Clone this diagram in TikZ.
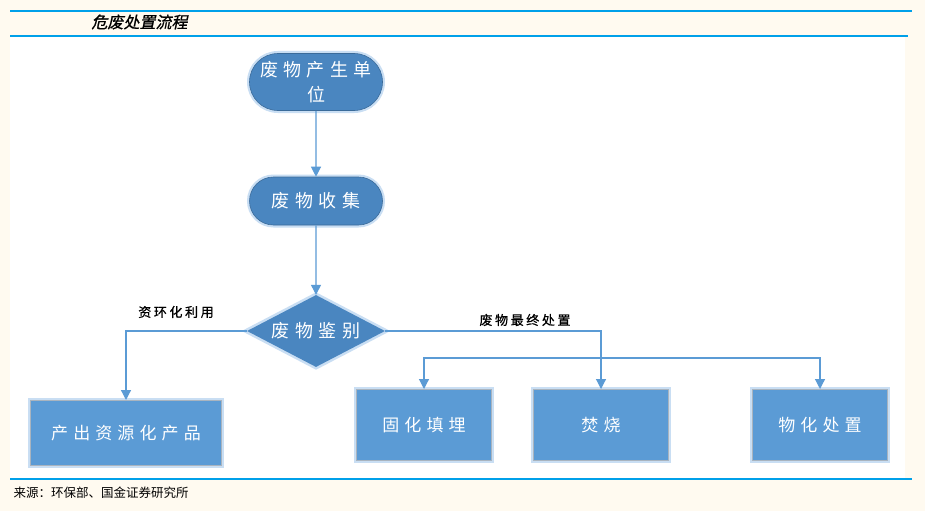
\documentclass[tikz,border=0pt]{standalone}
\usepackage{fontspec}
\setmainfont{Noto Sans CJK SC}
\newfontfamily\cjkwide[LetterSpace=30]{Noto Sans CJK SC}
\newfontfamily\cjklabel[LetterSpace=20,FakeBold=0.8]{Noto Sans CJK SC}
\newfontfamily\cjkslant[FakeSlant=0.2,FakeBold=1]{Noto Sans CJK SC}
\usetikzlibrary{shapes.geometric,shapes.misc,arrows.meta,positioning}
\definecolor{pageback}{HTML}{FFFAF0}
\definecolor{rulecol}{HTML}{00A0E9}
\definecolor{darkblue}{HTML}{4A86C0}
\definecolor{boxblue}{HTML}{5B9BD5}
\definecolor{glowblue}{HTML}{C9DEF3}
\definecolor{linkblue}{HTML}{5B9BD5}
\definecolor{boxrim}{HTML}{A9B4BF}
\tikzset{
  terminal/.style={rounded rectangle, fill=darkblue, draw=darkblue!80!black, line width=0.6pt,
    preaction={draw=glowblue, line width=5pt}, text=white, align=center,
    minimum width=137pt, minimum height=48pt, inner sep=2pt,
    font=\cjkwide\fontsize{18}{25}\selectfont},
  judge/.style={diamond, fill=darkblue, preaction={draw=glowblue, line width=5pt}, text=white,
    aspect=1.9, minimum width=138pt, minimum height=72pt, inner sep=0pt,
    font=\cjkwide\fontsize{18}{22}\selectfont},
  outbox/.style={rectangle, fill=boxblue, draw=boxrim, line width=1pt,
    preaction={draw=glowblue, line width=5pt}, text=white,
    minimum width=135pt, minimum height=71pt,
    font=\cjkwide\fontsize{17}{20}\selectfont},
  note/.style={font=\cjklabel\fontsize{13}{15}\selectfont, text=black},
  link/.style={draw=linkblue, line width=1.2pt, -{Triangle[width=10pt,length=10pt]}}
}
\begin{document}
\begin{tikzpicture}[x=1pt,y=-1pt]
% 背景与标题栏
\useasboundingbox[fill=pageback] (0,0) rectangle (925,511);
\fill[white] (10,37) rectangle (905,478);
\draw[rulecol, line width=2pt] (10,11) -- (912,11);
\draw[rulecol, line width=1.5pt] (10,36) -- (908,36);
\draw[rulecol, line width=2.5pt] (10,479) -- (912,479);
\node[anchor=west, font=\cjkslant\fontsize{16}{18}\selectfont] (title) at (88,22) {危废处置流程};
\node[anchor=west, font=\fontsize{12.5}{14}\selectfont] (credit) at (10,493) {来源：环保部、国金证券研究所};

% 流程节点
\node[terminal, minimum height=57pt] (origin) at (316,82) {废物产生单\\位};
\node[terminal] (collect) at (316,201) {废物收集};
\node[judge] (identify) at (316,331) {废物鉴别};
\node[outbox, minimum width=191pt, minimum height=65pt] (product) at (126,433) {产出资源化产品};
\node[outbox] (landfill) at (424,425) {固化填埋};
\node[outbox] (burn) at (601,425) {焚烧};
\node[outbox] (treat) at (820,425) {物化处置};

% 连线
\draw[link] (origin) -- (collect);
\draw[link] (collect) -- (identify);
\draw[link] (identify.west) -| (product.north);
\draw[link] (identify.east) -| (burn.north);
\coordinate (fork) at (601,358);
\draw[link] (fork) -| (landfill.north);
\draw[link] (fork) -| (treat.north);

% 分支标注
\node[note] (reuse) at (176,312) {资环化利用};
\node[note] (final) at (525,320) {废物最终处置};
\end{tikzpicture}
\end{document}
